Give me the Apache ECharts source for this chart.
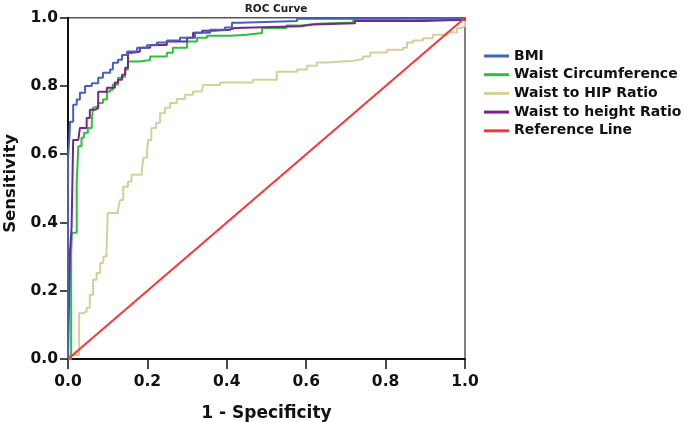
<!DOCTYPE html>
<html>
<head>
<meta charset="utf-8">
<script src="https://cdn.jsdelivr.net/npm/echarts@6/dist/echarts.min.js"></script>
<style>
html,body{margin:0;padding:0;background:#fff;}
#chart{width:685px;height:422px;}
</style>
</head>
<body>
<div id="chart"></div>
<script>
// ---- data (x = 1 - Specificity, y = Sensitivity) ----
const seriesNames = ['BMI', 'Waist Circumference', 'Waist to HIP Ratio', 'Waist to height Ratio', 'Reference Line'];
const xTicks = [0, 0.2, 0.4, 0.6, 0.8, 1.0];

const bmi = [[0,0],[0,0.59],[0.004,0.66],[0.005,0.695],[0.013,0.745],[0.022,0.76],[0.03,0.78],[0.043,0.8],[0.06,0.808],[0.076,0.824],[0.088,0.839],[0.106,0.848],[0.113,0.868],[0.126,0.877],[0.136,0.891],[0.149,0.901],[0.174,0.912],[0.199,0.919],[0.224,0.927],[0.249,0.933],[0.282,0.941],[0.32,0.956],[0.358,0.965],[0.395,0.971],[0.413,0.985],[0.433,0.99],[0.577,0.997],[0.836,1],[1,1]];

const waistCirc = [[0,0],[0.008,0.314],[0.01,0.37],[0.022,0.516],[0.026,0.623],[0.034,0.648],[0.04,0.663],[0.05,0.677],[0.06,0.7],[0.063,0.736],[0.068,0.74],[0.076,0.75],[0.088,0.76],[0.098,0.783],[0.106,0.789],[0.113,0.804],[0.126,0.824],[0.136,0.828],[0.144,0.848],[0.151,0.872],[0.181,0.876],[0.207,0.886],[0.249,0.897],[0.264,0.912],[0.3,0.93],[0.325,0.941],[0.35,0.947],[0.41,0.95],[0.45,0.955],[0.489,0.97],[0.55,0.977],[0.59,0.982],[0.627,0.986],[0.718,0.992],[0.854,0.996],[1,1]];

const waistHip = [[0,0],[0.003,0.012],[0.028,0.012],[0.028,0.134],[0.038,0.139],[0.047,0.15],[0.055,0.188],[0.063,0.232],[0.072,0.252],[0.081,0.281],[0.089,0.3],[0.097,0.314],[0.1,0.428],[0.126,0.437],[0.131,0.466],[0.139,0.505],[0.151,0.52],[0.16,0.54],[0.186,0.554],[0.19,0.59],[0.199,0.608],[0.202,0.642],[0.21,0.677],[0.222,0.692],[0.232,0.72],[0.244,0.736],[0.257,0.75],[0.274,0.762],[0.295,0.774],[0.315,0.784],[0.337,0.789],[0.34,0.803],[0.383,0.81],[0.466,0.818],[0.526,0.842],[0.577,0.848],[0.602,0.859],[0.627,0.869],[0.652,0.874],[0.718,0.879],[0.743,0.886],[0.761,0.898],[0.804,0.906],[0.844,0.912],[0.854,0.927],[0.869,0.933],[0.894,0.94],[0.919,0.95],[0.955,0.957],[0.98,0.97],[0.992,0.975],[1,1]];

const waistHeight = [[0,0],[0.005,0.315],[0.009,0.384],[0.013,0.642],[0.026,0.645],[0.03,0.677],[0.047,0.706],[0.055,0.73],[0.068,0.735],[0.076,0.783],[0.098,0.795],[0.118,0.81],[0.126,0.818],[0.136,0.833],[0.144,0.853],[0.151,0.897],[0.161,0.9],[0.181,0.912],[0.207,0.92],[0.249,0.93],[0.3,0.941],[0.315,0.956],[0.338,0.962],[0.365,0.965],[0.408,0.97],[0.42,0.975],[0.584,0.98],[0.617,0.984],[0.723,0.99],[0.894,0.994],[1,1]];

const referenceLine = [[0,0],[1,1]];

const colors = ['#4262c2', '#2fbf3a', '#d6cf98', '#7a2585', '#ff3333'];
const zOrder = [6, 3, 2, 4, 7];
const allData = [bmi, waistCirc, waistHip, waistHeight, referenceLine];

const FONT = '"DejaVu Sans", sans-serif';
const chart = echarts.init(document.getElementById('chart'), null, {renderer: 'canvas'});

const series = seriesNames.map((name, i) => ({
  name: name,
  type: 'line',
  data: allData[i],
  step: i === 4 ? false : 'end',
  symbol: 'none',
  z: zOrder[i],
  lineStyle: {color: colors[i], width: 2},
  itemStyle: {color: colors[i]},
  animation: false
}));

chart.setOption({
  animation: false,
  backgroundColor: '#ffffff',
  title: {
    text: 'ROC Curve',
    left: 271, top: -1,
    textAlign: 'center',
    textStyle: {fontFamily: FONT, fontSize: 10.5, fontWeight: 'bold', color: '#222'}
  },
  legend: {
    orient: 'vertical',
    left: 479, top: 44,
    itemWidth: 25, itemHeight: 3,
    itemGap: 4.7,
    icon: 'rect',
    data: seriesNames,
    textStyle: {fontFamily: FONT, fontSize: 14, fontWeight: 'bold', color: '#111', lineHeight: 14}
  },
  grid: {
    left: 68, right: 220, top: 17.7, bottom: 63,
    show: true, borderColor: '#555', borderWidth: 1.5, backgroundColor: '#fff',
    containLabel: false,
    outerBoundsMode: 'none'
  },
  xAxis: {
    type: 'value', min: 0, max: 1, interval: 0.2,
    name: '1 - Specificity', nameLocation: 'middle', nameGap: 46,
    nameTextStyle: {fontFamily: FONT, fontSize: 17, fontWeight: 'bold', color: '#111'},
    axisLine: {lineStyle: {color: '#111', width: 2}},
    axisTick: {length: 10, lineStyle: {color: '#111', width: 1.5}},
    axisLabel: {fontFamily: FONT, fontSize: 15.5, fontWeight: 'bold', color: '#111', margin: 15,
      formatter: v => v.toFixed(1)},
    splitLine: {show: false}
  },
  yAxis: {
    type: 'value', min: 0, max: 1, interval: 0.2,
    name: 'Sensitivity', nameLocation: 'middle', nameGap: 48,
    nameTextStyle: {fontFamily: FONT, fontSize: 16.5, fontWeight: 'bold', color: '#111', padding: [0, 0, 0, 10]},
    axisLine: {lineStyle: {color: '#111', width: 2}},
    axisTick: {length: 8, lineStyle: {color: '#111', width: 1.5}},
    axisLabel: {fontFamily: FONT, fontSize: 15.5, fontWeight: 'bold', color: '#111', margin: 10,
      formatter: v => v.toFixed(1)},
    splitLine: {show: false}
  },
  series: series
});
</script>
</body>
</html>
